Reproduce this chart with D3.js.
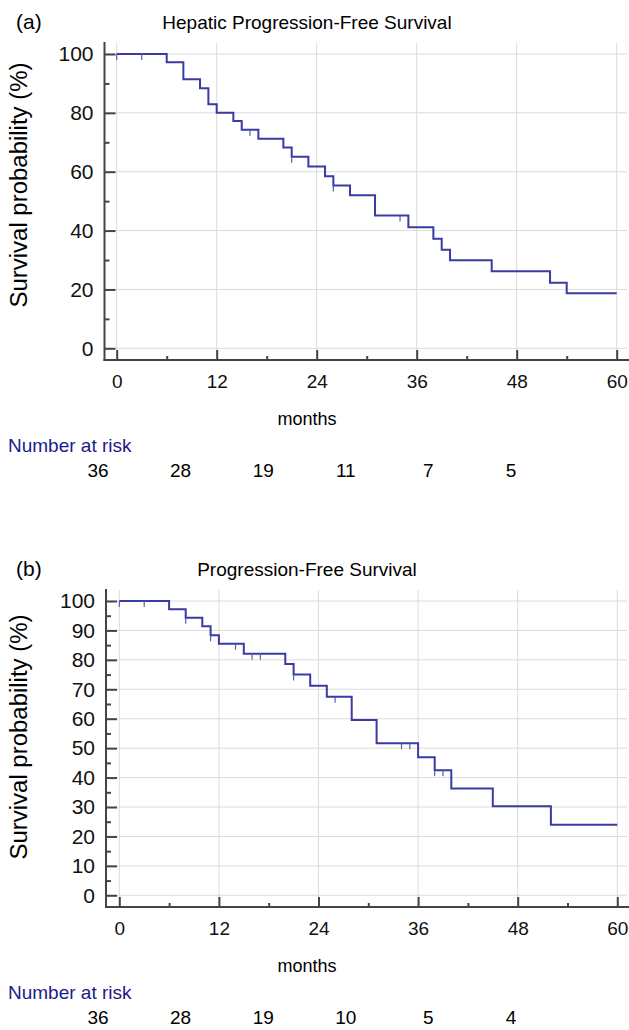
<!DOCTYPE html>
<html>
<head>
<meta charset="utf-8">
<script src="https://cdn.jsdelivr.net/npm/d3@7"></script>
<style>
  body { margin: 0; background: #fff; }
  svg { display: block; font-family: Arial, "Liberation Sans", sans-serif; }
  .grid line { stroke: #dcdcdc; stroke-width: 1; }
  .tick text { font-size: 19px; fill: #111; }
  .y-axis .tick text { font-size: 21px; }
</style>
</head>
<body>
<svg class="km" width="629" height="1030"></svg>
<script>
// Static data
const monthTicks = [0, 12, 24, 36, 48, 60];

// (a) Hepatic PFS
const hpfsTimes = [6, 8, 10, 11, 12, 14, 15, 17, 20, 21, 23, 25, 26, 28, 31, 35, 38, 39, 40, 45, 52, 54];
const hpfsSurv = [97.2, 91.4, 88.4, 82.9, 80.0, 77.2, 74.3, 71.2, 68.2, 65.1, 61.8, 58.5, 55.3, 52.0, 45.1, 41.1, 37.2, 33.5, 29.9, 26.2, 22.3, 18.7];
const hpfsCensored = [0, 3, 16, 21, 26, 34];
const hpfsAtRisk = [36, 28, 19, 11, 7, 5];
const hpfsYTicks = [0, 20, 40, 60, 80, 100];

// (b) PFS
const pfsTimes = [6, 8, 10, 11, 12, 15, 20, 21, 23, 25, 28, 31, 36, 38, 40, 45, 52];
const pfsSurv = [97.2, 94.3, 91.4, 88.4, 85.5, 82.1, 78.6, 75.0, 71.2, 67.5, 59.6, 51.7, 46.9, 42.5, 36.3, 30.3, 24.0];
const pfsCensored = [0, 3, 8, 11, 14, 16, 17, 21, 26, 34, 35, 38, 39];
const pfsAtRisk = [36, 28, 19, 10, 5, 4];
const pfsYTicks = [0, 10, 20, 30, 40, 50, 60, 70, 80, 90, 100];

const curveColor = '#3a3aa3';
const riskColor = '#1b1b8a';

const svg = d3.select('.km');

function drawPanel(p) {
  const x = d3.scaleLinear().domain([0, 60]).range([p.x0, p.x1]);
  const y = d3.scaleLinear().domain([0, 100]).range([p.y0, p.y1]);
  const g = svg.append('g');

  // grid
  const grid = g.append('g').attr('class', 'grid');
  grid.selectAll('.gv').data(monthTicks).enter().append('line')
      .attr('x1', d => x(d)).attr('x2', d => x(d))
      .attr('y1', p.top + 1).attr('y2', p.axisY);
  grid.selectAll('.gh').data(p.yTicks).enter().append('line')
      .attr('x1', p.axisX).attr('x2', 627)
      .attr('y1', d => y(d)).attr('y2', d => y(d));

  // axes, ticks point inward
  const yAxis = d3.axisLeft(y).tickValues(p.yTicks).tickSize(-11).tickPadding(11).tickSizeOuter(0);
  const yMinor = d3.axisLeft(y).tickValues(p.yMinor).tickSize(-5).tickFormat('');
  const xAxis = d3.axisBottom(x).tickValues(monthTicks).tickSize(-10).tickPadding(15).tickSizeOuter(0);
  const xMinor = d3.axisBottom(x).tickValues(d3.range(6, 60, 12)).tickSize(-4).tickFormat('');

  [yAxis, yMinor].forEach(ax => {
    g.append('g').attr('class', 'y-axis')
     .attr('transform', `translate(${p.axisX},0)`)
     .call(ax)
     .call(s => s.select('.domain').remove());
  });
  [xAxis, xMinor].forEach(ax => {
    g.append('g').attr('class', 'x-axis')
     .attr('transform', `translate(0,${p.axisY})`)
     .call(ax)
     .call(s => s.select('.domain').remove());
  });
  g.selectAll('.tick line').attr('stroke', '#444').attr('stroke-width', 2);

  g.append('line').attr('x1', p.axisX).attr('x2', p.axisX).attr('y1', p.top).attr('y2', p.axisY + 1)
   .attr('stroke', '#444').attr('stroke-width', 2);
  g.append('line').attr('x1', p.axisX - 1).attr('x2', 629).attr('y1', p.axisY).attr('y2', p.axisY)
   .attr('stroke', '#444').attr('stroke-width', 2);

  // curve
  const pts = [[0, 100]].concat(p.times.map((t, i) => [t, p.surv[i]]), [[60, p.surv[p.surv.length - 1]]]);
  const line = d3.line().x(d => x(d[0])).y(d => y(d[1])).curve(d3.curveStepAfter);
  g.append('path').datum(pts)
   .attr('d', line).attr('fill', 'none')
   .attr('stroke', curveColor).attr('stroke-width', 2);

  const survAt = t => {
    let s = 100;
    p.times.forEach((tt, i) => { if (tt <= t) s = p.surv[i]; });
    return s;
  };
  g.selectAll('.cens').data(p.censored).enter().append('line')
   .attr('x1', d => x(d)).attr('x2', d => x(d))
   .attr('y1', d => y(survAt(d))).attr('y2', d => y(survAt(d)) + 6)
   .attr('stroke', '#5a5ab8').attr('stroke-width', 1.2);

  // texts
  svg.append('text').attr('x', 16).attr('y', p.top - 13)
     .attr('font-size', 21).text(p.tag);
  svg.append('text').attr('x', 307).attr('y', p.top - 13).attr('text-anchor', 'middle')
     .attr('font-size', 19).text(p.title);
  svg.append('text').attr('transform', `translate(27,${p.labelY}) rotate(-90)`)
     .attr('text-anchor', 'middle').attr('font-size', 23)
     .attr('textLength', 245).attr('lengthAdjust', 'spacingAndGlyphs')
     .text('Survival probability (%)');
  svg.append('text').attr('x', 307).attr('y', p.axisY + 65).attr('text-anchor', 'middle')
     .attr('font-size', 18).text('months');
  svg.append('text').attr('x', 8).attr('y', p.axisY + 92)
     .attr('font-size', 19).attr('fill', riskColor).text('Number at risk');

  const rx = d3.scaleLinear().domain([0, 60]).range([98, 511]);
  svg.selectAll(null).data(p.atRisk).enter().append('text')
     .attr('x', (d, i) => rx(monthTicks[i])).attr('y', p.axisY + 117)
     .attr('text-anchor', 'middle').attr('font-size', 19).text(d => d);
}

drawPanel({
  tag: '(a)', title: 'Hepatic Progression-Free Survival',
  x0: 116.7, x1: 616.7, y0: 348.3, y1: 54, top: 42, axisX: 104.5, axisY: 360, labelY: 185,
  yTicks: hpfsYTicks, yMinor: d3.range(10, 100, 20),
  times: hpfsTimes, surv: hpfsSurv, censored: hpfsCensored, atRisk: hpfsAtRisk
});

drawPanel({
  tag: '(b)', title: 'Progression-Free Survival',
  x0: 119.3, x1: 617.3, y0: 895.3, y1: 601, top: 589, axisX: 106, axisY: 907, labelY: 737,
  yTicks: pfsYTicks, yMinor: d3.range(5, 100, 10),
  times: pfsTimes, surv: pfsSurv, censored: pfsCensored, atRisk: pfsAtRisk
});
</script>
</body>
</html>
